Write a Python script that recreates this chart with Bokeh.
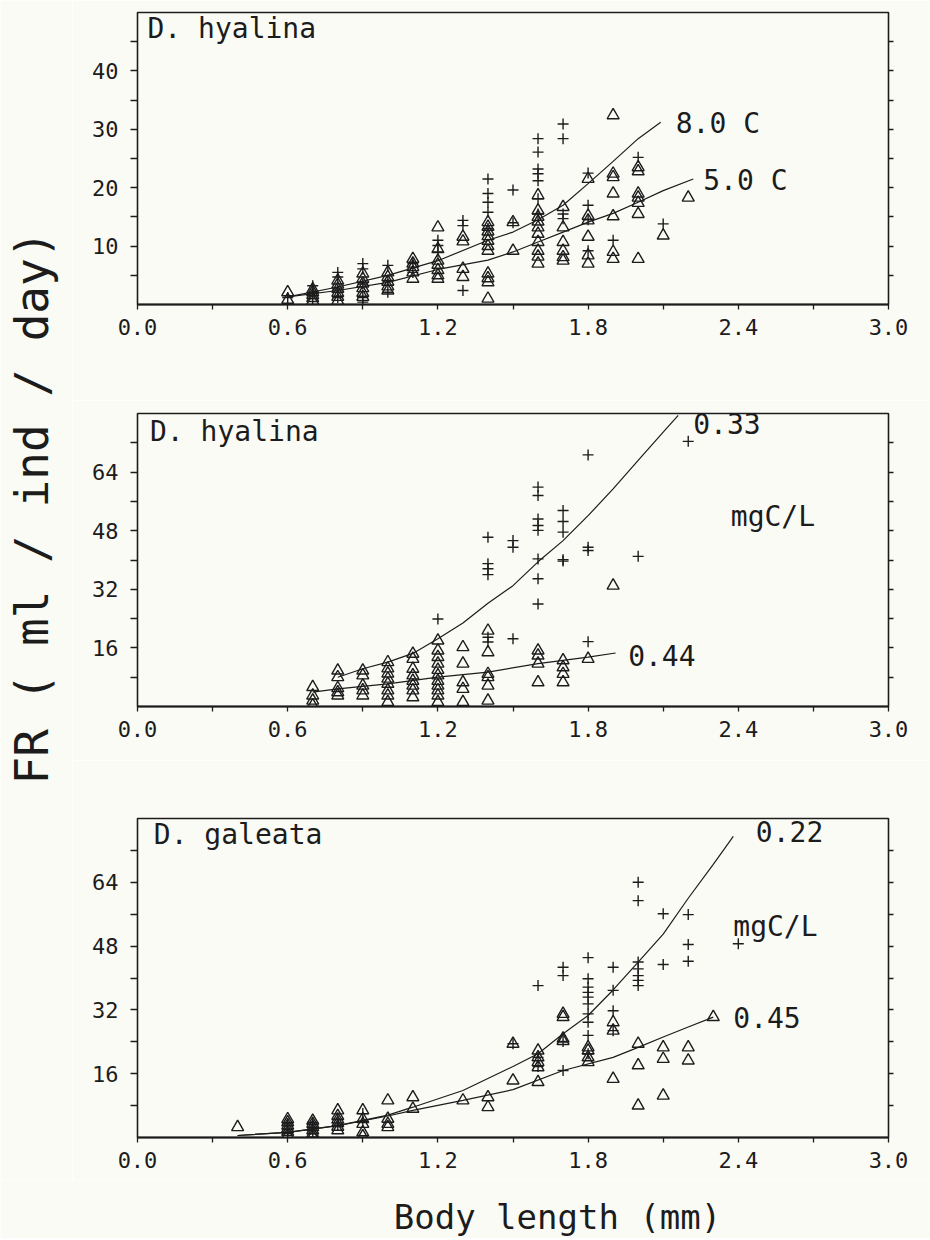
from bokeh.plotting import figure
from bokeh.layouts import row, column
from bokeh.models import Range1d, FixedTicker, PrintfTickFormatter, LinearAxis, Label
from bokeh.embed import file_html
from bokeh.resources import INLINE

# ---------------- data ----------------
# x: body length (mm), y: FR (ml/ind/day)
x_ticks = [0.0, 0.6, 1.2, 1.8, 2.4, 3.0]
x_minor = [0.3, 0.9, 1.5, 2.1, 2.7]

# Panel 1: D. hyalina, temperature
p1_y_ticks = [10, 20, 30, 40]
p1_y_minor = [5, 15, 25, 35, 45]
h_8C_len = [0.6, 0.7, 0.8, 0.9, 1.0, 1.1, 1.2, 1.3, 1.4, 1.5, 1.6, 1.7, 1.8, 1.9, 2.0, 2.1]
h_8C_fr = [[1.2], [3.2, 2.0, 1.0], [5.5, 4.7, 2.5, 1.2], [7.0, 6.1, 3.5, 1.2, 0.4],
           [6.7, 4.0, 2.1], [7.0, 5.5], [11.0, 10.1, 9.0], [14.4, 13.5, 2.4],
           [21.5, 19.0, 17.5, 15.8, 13.0], [19.6, 14.0],
           [28.4, 26.1, 23.2, 22.4, 21.2, 18.1, 15.5], [30.9, 28.4, 15.5, 14.7],
           [22.5, 17.0, 14.5, 9.2], [11.0], [25.2], [13.8]]
h_5C_len = [0.6, 0.7, 0.8, 0.9, 1.0, 1.1, 1.2, 1.3, 1.4, 1.5, 1.6, 1.7, 1.8, 1.9, 2.0, 2.1, 2.2]
h_5C_fr = [[2.1, 0.8], [2.6, 2.1, 1.6, 1.1, 0.6], [4.1, 3.4, 2.7, 2.0, 1.3, 0.6],
           [5.3, 4.4, 3.6, 2.8, 2.0, 1.3], [5.5, 4.7, 3.9, 3.1, 2.4], [7.8, 7.0, 6.4, 5.5, 4.4],
           [13.2, 9.5, 7.5, 6.8, 5.9, 5.0, 4.4], [11.6, 10.8, 6.1, 4.7],
           [14.1, 13.3, 12.5, 11.7, 10.9, 10.0, 9.2, 5.3, 4.5, 3.8, 1.0], [14.1, 9.2],
           [18.7, 16.1, 15.0, 14.2, 13.2, 12.1, 10.7, 9.2, 8.2, 7.0],
           [16.7, 13.2, 10.7, 9.2, 8.1, 7.5], [21.5, 15.2, 14.4, 11.6, 8.4, 7.0],
           [32.4, 22.4, 21.8, 19.0, 15.1, 9.0, 7.8], [23.5, 22.8, 19.0, 18.3, 17.4, 15.5, 7.8],
           [11.8], [18.3]]
h_8C_curve_len = [0.6, 0.8, 1.0, 1.2, 1.4, 1.5, 1.6, 1.7, 1.8, 1.9, 2.0, 2.09]
h_8C_curve_fr = [1.3, 3.0, 5.0, 7.5, 11.0, 12.4, 14.5, 17.0, 20.7, 24.5, 28.4, 31.2]
h_5C_curve_len = [0.6, 0.8, 1.0, 1.2, 1.4, 1.5, 1.6, 1.7, 1.8, 1.9, 2.0, 2.1, 2.22]
h_5C_curve_fr = [1.3, 2.4, 3.8, 6.0, 7.6, 9.0, 10.7, 12.4, 14.1, 15.6, 17.5, 19.5, 21.5]

# Panel 2: D. hyalina, food concentration
p23_y_ticks = [16, 32, 48, 64]
p23_y_minor = [8, 24, 40, 56, 72]
h_033_len = [1.2, 1.4, 1.5, 1.6, 1.7, 1.8, 2.0, 2.2]
h_033_fr = [[23.9], [46.2, 39.0, 37.6, 36.0, 18.9, 17.6], [45.3, 43.5, 18.5],
            [59.9, 57.6, 51.2, 49.4, 48.1, 40.3, 34.9, 28.0], [53.5, 50.5, 47.6, 40.1, 39.7],
            [68.7, 43.5, 42.6, 17.7], [41.0], [72.4]]
h_044_len = [0.7, 0.8, 0.9, 1.0, 1.1, 1.2, 1.3, 1.4, 1.6, 1.7, 1.8, 1.9]
h_044_fr = [[5.3, 3.0, 1.6, 0.3], [9.8, 8.0, 5.0, 3.9, 3.0], [9.8, 8.5, 5.7, 4.4, 3.0],
            [12.1, 10.4, 9.0, 7.6, 6.2, 4.4, 3.0, 1.2], [14.4, 13.0, 10.3, 8.5, 7.0, 5.7, 4.4, 2.5],
            [18.0, 15.3, 13.5, 11.7, 10.0, 8.5, 7.0, 5.7, 4.4, 3.0, 1.2],
            [16.2, 11.7, 6.6, 4.8, 1.2], [20.7, 14.8, 8.9, 8.0, 5.7, 1.6],
            [15.3, 13.9, 11.7, 6.6], [12.6, 10.7, 8.9, 6.6], [13.0], [33.0]]
h_033_curve_len = [0.8, 0.9, 1.0, 1.1, 1.2, 1.3, 1.4, 1.5, 1.6, 1.7, 1.8, 1.9, 2.0, 2.1, 2.16]
h_033_curve_fr = [8.0, 10.3, 12.1, 14.5, 18.5, 22.8, 28.2, 33.0, 39.5, 45.3, 52.1, 59.4, 67.2, 74.9, 79.5]
h_044_curve_len = [0.7, 0.8, 1.0, 1.2, 1.4, 1.6, 1.8, 1.91]
h_044_curve_fr = [3.9, 4.8, 6.2, 8.0, 9.4, 11.7, 13.5, 14.6]

# Panel 3: D. galeata, food concentration
g_022_len = [0.6, 0.7, 0.8, 0.9, 1.5, 1.6, 1.7, 1.8, 1.9, 2.0, 2.1, 2.2, 2.4]
g_022_fr = [[3.5, 2.0, 1.0], [3.8, 2.5, 1.0], [4.5, 3.0], [6.0, 4.0], [23.5], [38.1, 20.1, 17.8],
            [42.7, 40.6, 24.1, 16.8],
            [45.1, 39.8, 37.7, 36.4, 35.2, 33.5, 31.0, 28.9, 25.6, 21.0],
            [42.7, 36.9, 31.8, 26.8], [64.0, 59.4, 44.0, 42.3, 40.6, 39.4, 38.1],
            [56.1, 43.4], [55.9, 48.4, 44.2], [48.6]]
g_045_len = [0.4, 0.6, 0.7, 0.8, 0.9, 1.0, 1.1, 1.3, 1.4, 1.5, 1.6, 1.7, 1.8, 1.9, 2.0, 2.1, 2.2, 2.3]
g_045_fr = [[2.6], [4.6, 3.8, 3.0, 2.2, 1.4, 0.6], [4.2, 3.4, 2.6, 1.8, 1.0, 0.3],
            [6.8, 5.4, 4.5, 3.6, 2.7, 1.8], [6.8, 4.6, 3.4, 1.3, 0.3], [9.3, 4.7, 3.4, 2.6],
            [10.1, 7.2], [9.3], [10.1, 7.6], [23.5, 14.3], [21.8, 20.1, 18.9, 17.6, 13.9],
            [31.0, 30.2, 24.8, 24.2], [22.6, 21.8, 20.1, 18.9], [28.9, 26.8, 14.7],
            [23.5, 18.1, 8.0], [22.6, 19.7, 10.5], [22.6, 19.3], [30.2]]
g_022_curve_len = [0.4, 0.6, 0.8, 1.0, 1.1, 1.3, 1.5, 1.6, 1.7, 1.8, 1.9, 2.0, 2.1, 2.2, 2.3, 2.38]
g_022_curve_fr = [0.5, 1.3, 3.0, 5.6, 7.6, 11.8, 17.8, 21.0, 26.0, 30.6, 37.0, 44.0, 51.0, 60.0, 68.5, 75.5]
g_045_curve_len = [0.4, 0.6, 0.8, 1.0, 1.1, 1.3, 1.5, 1.7, 1.9, 2.0, 2.1, 2.2, 2.3]
g_045_curve_fr = [0.5, 1.3, 3.0, 5.4, 6.8, 9.3, 12.0, 16.8, 20.1, 22.6, 25.2, 27.7, 30.2]

# ---------------- styling ----------------
FONT = "DejaVu Sans Mono"
INK = "#1c1c1c"
BG = "#fbfbf6"
LAB_W = 72
PANEL_W = 858
TXT = "28px"


def flatten(lengths, groups):
    xs, ys = [], []
    for L, vals in zip(lengths, groups):
        for v in vals:
            xs.append(L)
            ys.append(v)
    return xs, ys


def style_axis(ax):
    ax.axis_line_color = INK
    ax.major_tick_line_color = INK
    ax.minor_tick_line_color = INK
    ax.major_tick_in = 0
    ax.minor_tick_in = 0
    ax.major_tick_out = 7
    ax.minor_tick_out = 7
    ax.major_tick_line_width = 1.3
    ax.minor_tick_line_width = 1.3
    ax.major_label_text_font = FONT
    ax.major_label_text_color = INK
    ax.major_label_text_font_size = "22px"


def panel(height, mbt, mbb, ymax, yt, ym, plus, tri, curves, labels):
    p = figure(width=PANEL_W, height=height, x_range=Range1d(0, 3.0), y_range=Range1d(0, ymax),
               output_backend="svg", toolbar_location=None,
               min_border_left=65, min_border_right=42, min_border_top=mbt, min_border_bottom=mbb,
               background_fill_color=BG, border_fill_color=BG)
    p.grid.visible = False
    p.outline_line_color = INK
    p.outline_line_width = 1.6

    xa = p.xaxis[0]
    xa.ticker = FixedTicker(ticks=x_ticks, minor_ticks=x_minor)
    xa.formatter = PrintfTickFormatter(format="%.1f")
    style_axis(xa)
    xa.axis_line_width = 2.2
    xa.major_tick_out = 5
    xa.minor_tick_out = 5
    xa.major_label_standoff = 9

    ya = p.yaxis[0]
    ya.ticker = FixedTicker(ticks=yt, minor_ticks=ym)
    style_axis(ya)
    ya.major_label_standoff = 12

    # right-hand tick marks only (no labels)
    ra = LinearAxis(ticker=FixedTicker(ticks=[], minor_ticks=sorted(yt + ym)))
    style_axis(ra)
    ra.minor_tick_out = 5
    p.add_layout(ra, "right")

    for cx, cy in curves:
        p.line(cx, cy, line_color=INK, line_width=1.2)

    tx, ty = flatten(*tri)
    p.scatter(tx, ty, marker="triangle", size=12, line_color=INK, line_width=1.4,
              fill_alpha=0)
    px, py = flatten(*plus)
    p.scatter(px, py, marker="cross", size=11, line_color=INK, line_width=1.4)

    for (x, y, txt) in labels:
        p.add_layout(Label(x=x, y=y, text=txt, text_font=FONT, text_font_size=TXT,
                           text_color=INK, text_baseline="middle", text_align="left"))
    return p


p1 = panel(400, 12, 96, 50, p1_y_ticks, p1_y_minor,
           (h_8C_len, h_8C_fr), (h_5C_len, h_5C_fr),
           [(h_8C_curve_len, h_8C_curve_fr), (h_5C_curve_len, h_5C_curve_fr)],
           [(0.04, 47.2, "D. hyalina"), (2.15, 31.0, "8.0 C"), (2.26, 21.2, "5.0 C")])

p2 = panel(360, 13, 54, 80, p23_y_ticks, p23_y_minor,
           (h_033_len, h_033_fr), (h_044_len, h_044_fr),
           [(h_033_curve_len, h_033_curve_fr), (h_044_curve_len, h_044_curve_fr)],
           [(0.05, 75.2, "D. hyalina"), (2.22, 77.2, "0.33"), (2.37, 51.9, "mgC/L"),
            (1.96, 13.9, "0.44")])

p3 = panel(420, 58, 43, 80, p23_y_ticks, p23_y_minor,
           (g_022_len, g_022_fr), (g_045_len, g_045_fr),
           [(g_022_curve_len, g_022_curve_fr), (g_045_curve_len, g_045_curve_fr)],
           [(0.065, 76.1, "D. galeata"), (2.47, 76.7, "0.22"), (2.38, 52.8, "mgC/L"),
            (2.38, 30.2, "0.45")])

PANELS_H = 400 + 360 + 420
lab = figure(width=LAB_W, height=PANELS_H, x_range=Range1d(0, LAB_W), y_range=Range1d(PANELS_H, 0),
             output_backend="svg", toolbar_location=None, min_border=0,
             x_axis_type=None, y_axis_type=None,
             background_fill_color=BG, border_fill_color=BG, outline_line_color=None)
lab.grid.visible = False
lab.add_layout(Label(x=31, y=507, text="FR ( ml / ind / day)", angle=90, angle_units="deg",
                     text_font=FONT, text_font_size="46px", text_color=INK,
                     text_align="center", text_baseline="middle"))

XLAB_H = 58
TOTAL_W = LAB_W + PANEL_W
xlab = figure(width=TOTAL_W, height=XLAB_H, x_range=Range1d(0, TOTAL_W), y_range=Range1d(XLAB_H, 0),
              output_backend="svg", toolbar_location=None, min_border=0,
              x_axis_type=None, y_axis_type=None,
              background_fill_color=BG, border_fill_color=BG, outline_line_color=None)
xlab.grid.visible = False
xlab.add_layout(Label(x=557, y=36, text="Body length (mm)", text_font=FONT,
                      text_font_size="34px", text_color=INK, text_align="center",
                      text_baseline="middle"))

layout = column(row(lab, column(p1, p2, p3, spacing=0), spacing=0), xlab, spacing=0)
open("out.html", "w").write(file_html(layout, INLINE))
